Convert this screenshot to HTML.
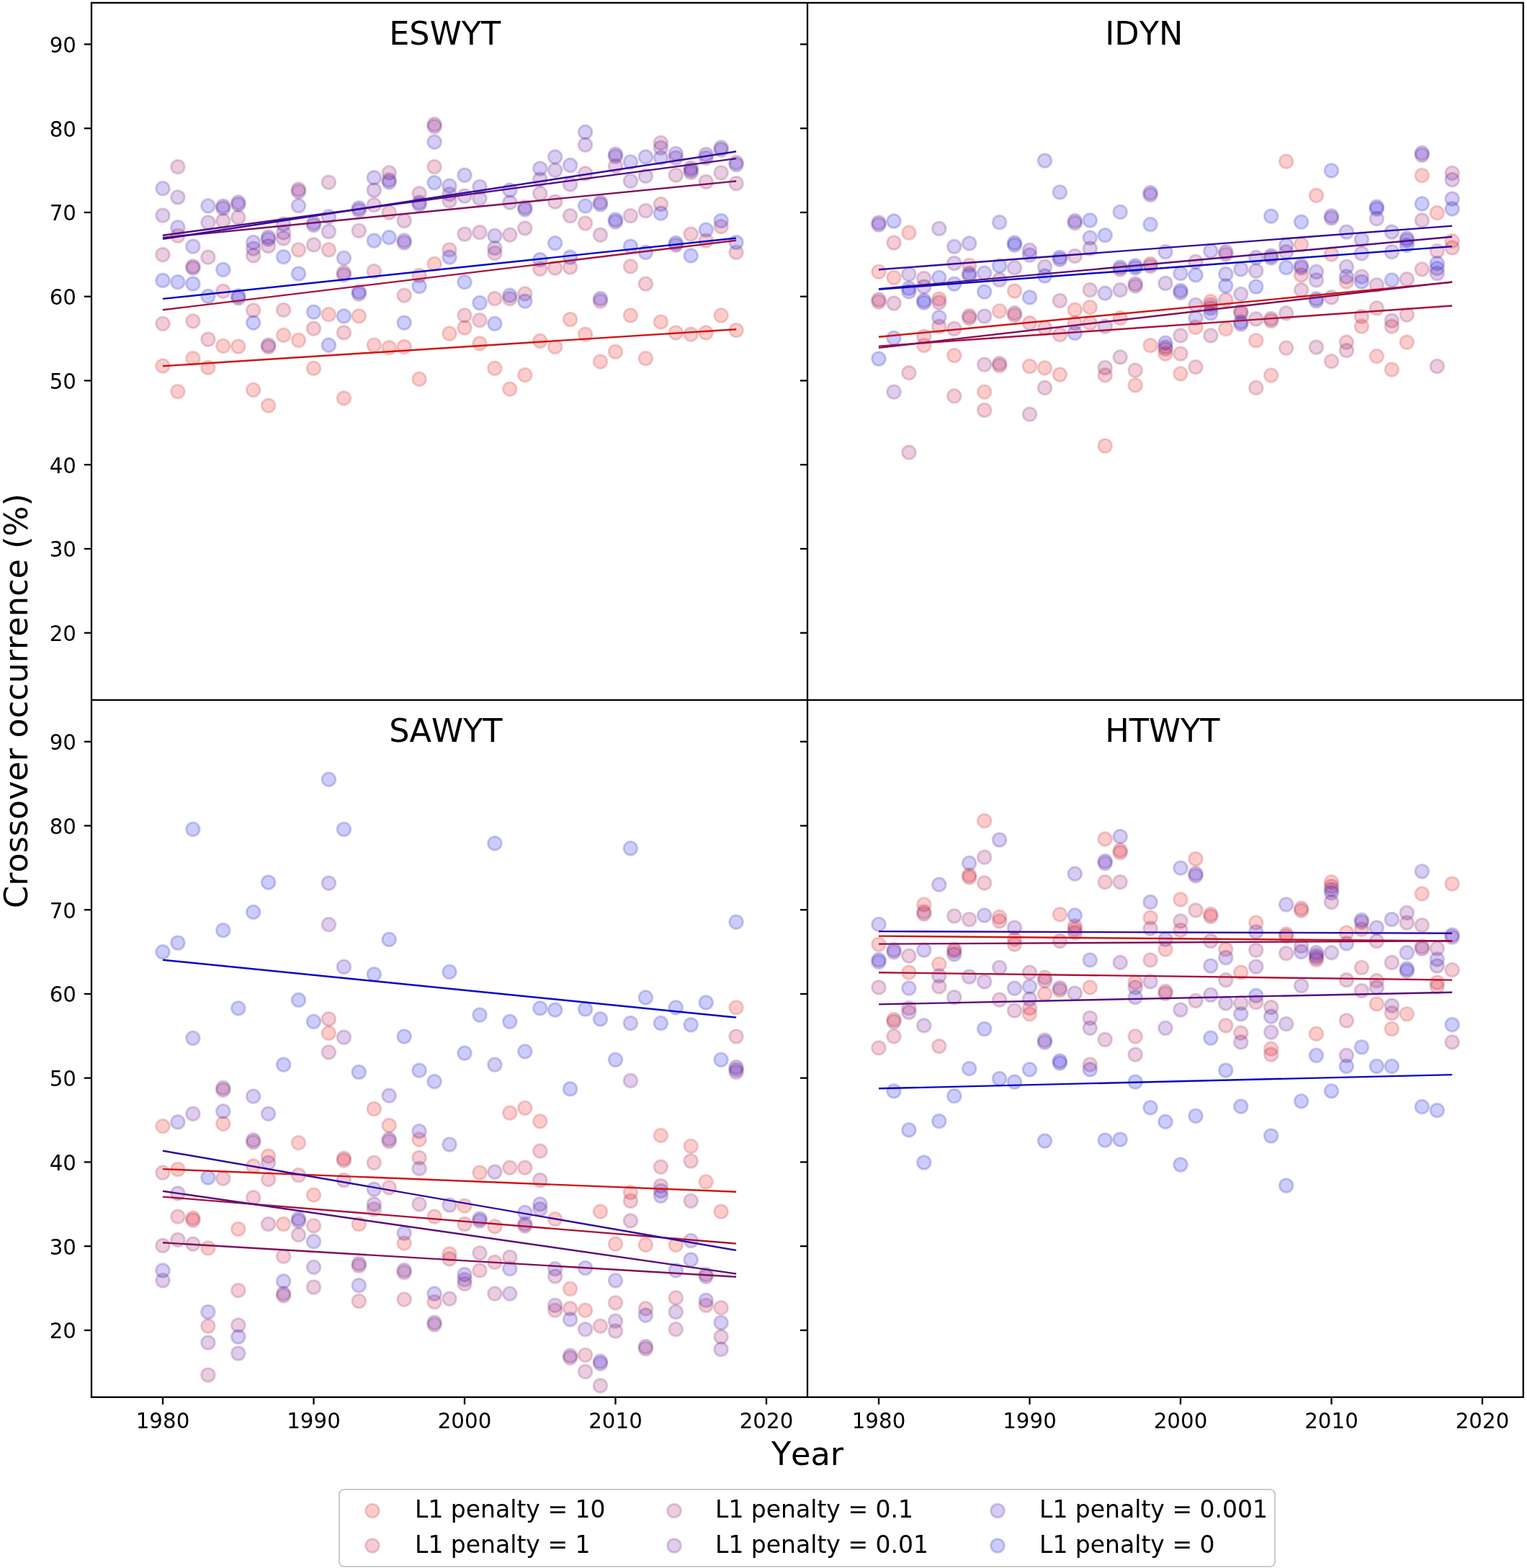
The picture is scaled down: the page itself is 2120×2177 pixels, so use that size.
<!DOCTYPE html>
<html><head><meta charset="utf-8"><title>Crossover occurrence</title>
<style>html,body{margin:0;padding:0;background:#fff;}svg{display:block;}text{font-family:'DejaVu Sans', 'Liberation Sans', sans-serif;fill:#000;font-kerning:none;}</style></head><body>
<svg width="2120" height="2177" viewBox="0 0 2120 2177">
<rect x="0" y="0" width="2120" height="2177" fill="#fff"/>
<clipPath id="cTL"><rect x="127.0" y="3.9" width="994.0" height="967.9"/></clipPath>
<g clip-path="url(#cTL)">
<g fill="rgba(255,0,0,0.20)" stroke="rgba(175,34,34,0.20)" stroke-width="2.9">
<circle cx="226.0" cy="508.0" r="9.4"/>
<circle cx="246.9" cy="543.6" r="9.4"/>
<circle cx="267.9" cy="497.6" r="9.4"/>
<circle cx="288.9" cy="510.3" r="9.4"/>
<circle cx="309.8" cy="480.3" r="9.4"/>
<circle cx="330.8" cy="481.0" r="9.4"/>
<circle cx="351.7" cy="541.3" r="9.4"/>
<circle cx="372.6" cy="563.2" r="9.4"/>
<circle cx="393.6" cy="465.4" r="9.4"/>
<circle cx="414.5" cy="472.3" r="9.4"/>
<circle cx="435.5" cy="511.4" r="9.4"/>
<circle cx="456.4" cy="436.6" r="9.4"/>
<circle cx="477.4" cy="552.9" r="9.4"/>
<circle cx="498.3" cy="438.9" r="9.4"/>
<circle cx="519.3" cy="479.2" r="9.4"/>
<circle cx="540.2" cy="482.6" r="9.4"/>
<circle cx="561.2" cy="481.5" r="9.4"/>
<circle cx="582.1" cy="526.4" r="9.4"/>
<circle cx="603.1" cy="366.4" r="9.4"/>
<circle cx="624.0" cy="463.1" r="9.4"/>
<circle cx="645.0" cy="455.0" r="9.4"/>
<circle cx="666.0" cy="476.9" r="9.4"/>
<circle cx="686.9" cy="511.4" r="9.4"/>
<circle cx="707.8" cy="540.2" r="9.4"/>
<circle cx="728.8" cy="520.6" r="9.4"/>
<circle cx="749.8" cy="473.4" r="9.4"/>
<circle cx="770.7" cy="481.5" r="9.4"/>
<circle cx="791.6" cy="443.5" r="9.4"/>
<circle cx="812.6" cy="464.2" r="9.4"/>
<circle cx="833.5" cy="502.2" r="9.4"/>
<circle cx="854.5" cy="488.4" r="9.4"/>
<circle cx="875.4" cy="437.8" r="9.4"/>
<circle cx="896.4" cy="497.6" r="9.4"/>
<circle cx="917.4" cy="447.0" r="9.4"/>
<circle cx="938.3" cy="461.9" r="9.4"/>
<circle cx="959.2" cy="464.2" r="9.4"/>
<circle cx="980.2" cy="461.9" r="9.4"/>
<circle cx="1001.1" cy="437.8" r="9.4"/>
<circle cx="1022.1" cy="458.5" r="9.4"/>
</g>
<g fill="rgba(204,0,51,0.20)" stroke="rgba(142,30,58,0.20)" stroke-width="2.9">
<circle cx="226.0" cy="449.3" r="9.4"/>
<circle cx="246.9" cy="327.3" r="9.4"/>
<circle cx="267.9" cy="445.8" r="9.4"/>
<circle cx="288.9" cy="471.1" r="9.4"/>
<circle cx="309.8" cy="404.4" r="9.4"/>
<circle cx="351.7" cy="430.8" r="9.4"/>
<circle cx="372.6" cy="481.5" r="9.4"/>
<circle cx="393.6" cy="430.4" r="9.4"/>
<circle cx="414.5" cy="346.8" r="9.4"/>
<circle cx="435.5" cy="456.2" r="9.4"/>
<circle cx="456.4" cy="346.8" r="9.4"/>
<circle cx="477.4" cy="461.9" r="9.4"/>
<circle cx="519.3" cy="376.7" r="9.4"/>
<circle cx="540.2" cy="295.0" r="9.4"/>
<circle cx="561.2" cy="410.1" r="9.4"/>
<circle cx="582.1" cy="382.5" r="9.4"/>
<circle cx="603.1" cy="231.7" r="9.4"/>
<circle cx="624.0" cy="346.8" r="9.4"/>
<circle cx="645.0" cy="437.8" r="9.4"/>
<circle cx="666.0" cy="444.7" r="9.4"/>
<circle cx="686.9" cy="414.7" r="9.4"/>
<circle cx="707.8" cy="414.7" r="9.4"/>
<circle cx="728.8" cy="407.8" r="9.4"/>
<circle cx="749.8" cy="373.3" r="9.4"/>
<circle cx="770.7" cy="372.1" r="9.4"/>
<circle cx="791.6" cy="371.0" r="9.4"/>
<circle cx="812.6" cy="310.0" r="9.4"/>
<circle cx="833.5" cy="418.2" r="9.4"/>
<circle cx="875.4" cy="369.8" r="9.4"/>
<circle cx="896.4" cy="394.0" r="9.4"/>
<circle cx="917.4" cy="283.5" r="9.4"/>
<circle cx="959.2" cy="325.0" r="9.4"/>
<circle cx="980.2" cy="334.2" r="9.4"/>
<circle cx="1001.1" cy="314.6" r="9.4"/>
<circle cx="1022.1" cy="350.3" r="9.4"/>
</g>
<g fill="rgba(153,0,102,0.20)" stroke="rgba(110,26,82,0.20)" stroke-width="2.9">
<circle cx="226.0" cy="353.7" r="9.4"/>
<circle cx="246.9" cy="231.7" r="9.4"/>
<circle cx="267.9" cy="369.8" r="9.4"/>
<circle cx="288.9" cy="357.2" r="9.4"/>
<circle cx="309.8" cy="306.5" r="9.4"/>
<circle cx="330.8" cy="301.9" r="9.4"/>
<circle cx="351.7" cy="354.9" r="9.4"/>
<circle cx="372.6" cy="341.5" r="9.4"/>
<circle cx="393.6" cy="330.9" r="9.4"/>
<circle cx="414.5" cy="262.9" r="9.4"/>
<circle cx="435.5" cy="339.9" r="9.4"/>
<circle cx="456.4" cy="253.1" r="9.4"/>
<circle cx="477.4" cy="378.7" r="9.4"/>
<circle cx="498.3" cy="320.3" r="9.4"/>
<circle cx="519.3" cy="284.7" r="9.4"/>
<circle cx="540.2" cy="239.8" r="9.4"/>
<circle cx="561.2" cy="306.5" r="9.4"/>
<circle cx="582.1" cy="268.6" r="9.4"/>
<circle cx="603.1" cy="172.7" r="9.4"/>
<circle cx="624.0" cy="278.9" r="9.4"/>
<circle cx="645.0" cy="325.0" r="9.4"/>
<circle cx="666.0" cy="322.7" r="9.4"/>
<circle cx="686.9" cy="351.4" r="9.4"/>
<circle cx="707.8" cy="326.1" r="9.4"/>
<circle cx="728.8" cy="316.9" r="9.4"/>
<circle cx="749.8" cy="268.6" r="9.4"/>
<circle cx="770.7" cy="280.1" r="9.4"/>
<circle cx="791.6" cy="299.6" r="9.4"/>
<circle cx="812.6" cy="240.9" r="9.4"/>
<circle cx="833.5" cy="326.1" r="9.4"/>
<circle cx="854.5" cy="230.6" r="9.4"/>
<circle cx="875.4" cy="299.6" r="9.4"/>
<circle cx="896.4" cy="292.7" r="9.4"/>
<circle cx="917.4" cy="198.3" r="9.4"/>
<circle cx="938.3" cy="243.2" r="9.4"/>
<circle cx="959.2" cy="239.3" r="9.4"/>
<circle cx="980.2" cy="252.4" r="9.4"/>
<circle cx="1001.1" cy="239.8" r="9.4"/>
<circle cx="1022.1" cy="254.7" r="9.4"/>
</g>
<g fill="rgba(102,0,153,0.20)" stroke="rgba(78,22,106,0.20)" stroke-width="2.9">
<circle cx="226.0" cy="299.2" r="9.4"/>
<circle cx="246.9" cy="273.8" r="9.4"/>
<circle cx="267.9" cy="372.1" r="9.4"/>
<circle cx="288.9" cy="308.8" r="9.4"/>
<circle cx="309.8" cy="286.2" r="9.4"/>
<circle cx="330.8" cy="280.9" r="9.4"/>
<circle cx="330.8" cy="413.9" r="9.4"/>
<circle cx="351.7" cy="345.2" r="9.4"/>
<circle cx="372.6" cy="329.2" r="9.4"/>
<circle cx="372.6" cy="479.2" r="9.4"/>
<circle cx="393.6" cy="322.9" r="9.4"/>
<circle cx="414.5" cy="265.9" r="9.4"/>
<circle cx="435.5" cy="309.6" r="9.4"/>
<circle cx="456.4" cy="321.5" r="9.4"/>
<circle cx="477.4" cy="381.7" r="9.4"/>
<circle cx="498.3" cy="291.9" r="9.4"/>
<circle cx="498.3" cy="408.2" r="9.4"/>
<circle cx="519.3" cy="264.0" r="9.4"/>
<circle cx="540.2" cy="249.8" r="9.4"/>
<circle cx="561.2" cy="333.8" r="9.4"/>
<circle cx="582.1" cy="280.9" r="9.4"/>
<circle cx="603.1" cy="175.7" r="9.4"/>
<circle cx="624.0" cy="269.7" r="9.4"/>
<circle cx="645.0" cy="272.0" r="9.4"/>
<circle cx="666.0" cy="275.5" r="9.4"/>
<circle cx="686.9" cy="344.5" r="9.4"/>
<circle cx="707.8" cy="281.2" r="9.4"/>
<circle cx="728.8" cy="287.8" r="9.4"/>
<circle cx="749.8" cy="249.0" r="9.4"/>
<circle cx="770.7" cy="236.3" r="9.4"/>
<circle cx="791.6" cy="255.9" r="9.4"/>
<circle cx="812.6" cy="201.1" r="9.4"/>
<circle cx="833.5" cy="280.9" r="9.4"/>
<circle cx="854.5" cy="214.1" r="9.4"/>
<circle cx="854.5" cy="308.0" r="9.4"/>
<circle cx="875.4" cy="251.3" r="9.4"/>
<circle cx="896.4" cy="244.4" r="9.4"/>
<circle cx="917.4" cy="205.2" r="9.4"/>
<circle cx="938.3" cy="219.1" r="9.4"/>
<circle cx="938.3" cy="340.3" r="9.4"/>
<circle cx="959.2" cy="233.3" r="9.4"/>
<circle cx="980.2" cy="219.1" r="9.4"/>
<circle cx="1001.1" cy="204.9" r="9.4"/>
<circle cx="1022.1" cy="225.6" r="9.4"/>
</g>
<g fill="rgba(51,0,204,0.20)" stroke="rgba(45,17,130,0.20)" stroke-width="2.9">
<circle cx="226.0" cy="261.6" r="9.4"/>
<circle cx="246.9" cy="315.7" r="9.4"/>
<circle cx="267.9" cy="342.2" r="9.4"/>
<circle cx="288.9" cy="285.8" r="9.4"/>
<circle cx="309.8" cy="289.2" r="9.4"/>
<circle cx="330.8" cy="283.9" r="9.4"/>
<circle cx="351.7" cy="336.5" r="9.4"/>
<circle cx="372.6" cy="332.2" r="9.4"/>
<circle cx="393.6" cy="311.1" r="9.4"/>
<circle cx="414.5" cy="285.6" r="9.4"/>
<circle cx="435.5" cy="312.6" r="9.4"/>
<circle cx="456.4" cy="300.8" r="9.4"/>
<circle cx="477.4" cy="358.3" r="9.4"/>
<circle cx="498.3" cy="288.9" r="9.4"/>
<circle cx="519.3" cy="246.7" r="9.4"/>
<circle cx="540.2" cy="252.8" r="9.4"/>
<circle cx="561.2" cy="336.8" r="9.4"/>
<circle cx="582.1" cy="283.9" r="9.4"/>
<circle cx="603.1" cy="197.2" r="9.4"/>
<circle cx="624.0" cy="258.2" r="9.4"/>
<circle cx="645.0" cy="243.2" r="9.4"/>
<circle cx="666.0" cy="259.3" r="9.4"/>
<circle cx="686.9" cy="327.3" r="9.4"/>
<circle cx="707.8" cy="264.0" r="9.4"/>
<circle cx="728.8" cy="290.8" r="9.4"/>
<circle cx="749.8" cy="234.0" r="9.4"/>
<circle cx="770.7" cy="217.9" r="9.4"/>
<circle cx="791.6" cy="229.4" r="9.4"/>
<circle cx="812.6" cy="183.4" r="9.4"/>
<circle cx="833.5" cy="283.9" r="9.4"/>
<circle cx="854.5" cy="217.1" r="9.4"/>
<circle cx="875.4" cy="224.8" r="9.4"/>
<circle cx="896.4" cy="217.9" r="9.4"/>
<circle cx="917.4" cy="219.1" r="9.4"/>
<circle cx="938.3" cy="213.3" r="9.4"/>
<circle cx="959.2" cy="236.3" r="9.4"/>
<circle cx="980.2" cy="214.5" r="9.4"/>
<circle cx="1001.1" cy="207.9" r="9.4"/>
<circle cx="1022.1" cy="228.6" r="9.4"/>
</g>
<g fill="rgba(0,0,255,0.20)" stroke="rgba(13,13,153,0.20)" stroke-width="2.9">
<circle cx="226.0" cy="389.4" r="9.4"/>
<circle cx="246.9" cy="391.7" r="9.4"/>
<circle cx="267.9" cy="394.0" r="9.4"/>
<circle cx="288.9" cy="411.3" r="9.4"/>
<circle cx="309.8" cy="374.4" r="9.4"/>
<circle cx="330.8" cy="410.9" r="9.4"/>
<circle cx="351.7" cy="448.1" r="9.4"/>
<circle cx="393.6" cy="356.7" r="9.4"/>
<circle cx="414.5" cy="380.0" r="9.4"/>
<circle cx="435.5" cy="433.1" r="9.4"/>
<circle cx="456.4" cy="479.2" r="9.4"/>
<circle cx="477.4" cy="438.9" r="9.4"/>
<circle cx="498.3" cy="405.2" r="9.4"/>
<circle cx="519.3" cy="334.2" r="9.4"/>
<circle cx="540.2" cy="329.6" r="9.4"/>
<circle cx="561.2" cy="448.1" r="9.4"/>
<circle cx="582.1" cy="397.5" r="9.4"/>
<circle cx="603.1" cy="253.6" r="9.4"/>
<circle cx="624.0" cy="357.2" r="9.4"/>
<circle cx="645.0" cy="391.7" r="9.4"/>
<circle cx="666.0" cy="420.5" r="9.4"/>
<circle cx="686.9" cy="449.3" r="9.4"/>
<circle cx="707.8" cy="410.1" r="9.4"/>
<circle cx="728.8" cy="418.2" r="9.4"/>
<circle cx="749.8" cy="360.6" r="9.4"/>
<circle cx="770.7" cy="337.6" r="9.4"/>
<circle cx="791.6" cy="357.2" r="9.4"/>
<circle cx="812.6" cy="285.8" r="9.4"/>
<circle cx="833.5" cy="414.7" r="9.4"/>
<circle cx="854.5" cy="305.0" r="9.4"/>
<circle cx="875.4" cy="342.2" r="9.4"/>
<circle cx="896.4" cy="350.3" r="9.4"/>
<circle cx="917.4" cy="296.2" r="9.4"/>
<circle cx="938.3" cy="337.3" r="9.4"/>
<circle cx="959.2" cy="354.9" r="9.4"/>
<circle cx="980.2" cy="319.2" r="9.4"/>
<circle cx="1001.1" cy="306.5" r="9.4"/>
<circle cx="1022.1" cy="336.5" r="9.4"/>
</g>
<line x1="226.0" y1="508.3" x2="1022.1" y2="457.2" stroke="rgb(210,19,19)" stroke-width="2.4"/>
<line x1="226.0" y1="430.3" x2="1022.1" y2="333.8" stroke="rgb(170,17,55)" stroke-width="2.4"/>
<line x1="226.0" y1="330.0" x2="1022.1" y2="251.5" stroke="rgb(129,14,91)" stroke-width="2.4"/>
<line x1="226.0" y1="326.7" x2="1022.1" y2="220.1" stroke="rgb(88,12,127)" stroke-width="2.4"/>
<line x1="226.0" y1="331.8" x2="1022.1" y2="210.3" stroke="rgb(48,10,163)" stroke-width="2.4"/>
<line x1="226.0" y1="414.9" x2="1022.1" y2="330.6" stroke="rgb(7,7,199)" stroke-width="2.4"/>
</g>
<clipPath id="cTR"><rect x="1121.0" y="3.9" width="993.8" height="967.9"/></clipPath>
<g clip-path="url(#cTR)">
<g fill="rgba(255,0,0,0.20)" stroke="rgba(175,34,34,0.20)" stroke-width="2.9">
<circle cx="1220.0" cy="377.3" r="9.4"/>
<circle cx="1241.0" cy="385.3" r="9.4"/>
<circle cx="1261.9" cy="323.2" r="9.4"/>
<circle cx="1282.8" cy="479.7" r="9.4"/>
<circle cx="1303.8" cy="415.2" r="9.4"/>
<circle cx="1324.8" cy="493.5" r="9.4"/>
<circle cx="1345.7" cy="368.3" r="9.4"/>
<circle cx="1366.7" cy="544.2" r="9.4"/>
<circle cx="1387.6" cy="431.8" r="9.4"/>
<circle cx="1408.5" cy="404.0" r="9.4"/>
<circle cx="1429.5" cy="508.5" r="9.4"/>
<circle cx="1450.5" cy="510.8" r="9.4"/>
<circle cx="1471.4" cy="520.0" r="9.4"/>
<circle cx="1492.3" cy="430.2" r="9.4"/>
<circle cx="1513.3" cy="426.7" r="9.4"/>
<circle cx="1534.2" cy="619.0" r="9.4"/>
<circle cx="1555.2" cy="441.7" r="9.4"/>
<circle cx="1576.2" cy="534.9" r="9.4"/>
<circle cx="1597.1" cy="479.7" r="9.4"/>
<circle cx="1618.0" cy="491.2" r="9.4"/>
<circle cx="1639.0" cy="518.8" r="9.4"/>
<circle cx="1660.0" cy="454.4" r="9.4"/>
<circle cx="1680.9" cy="418.7" r="9.4"/>
<circle cx="1701.8" cy="456.7" r="9.4"/>
<circle cx="1743.8" cy="472.8" r="9.4"/>
<circle cx="1764.7" cy="521.1" r="9.4"/>
<circle cx="1785.7" cy="224.2" r="9.4"/>
<circle cx="1806.6" cy="339.3" r="9.4"/>
<circle cx="1827.5" cy="271.4" r="9.4"/>
<circle cx="1848.5" cy="353.1" r="9.4"/>
<circle cx="1869.4" cy="391.1" r="9.4"/>
<circle cx="1890.4" cy="453.2" r="9.4"/>
<circle cx="1911.3" cy="494.7" r="9.4"/>
<circle cx="1932.3" cy="513.1" r="9.4"/>
<circle cx="1953.2" cy="475.1" r="9.4"/>
<circle cx="1974.2" cy="243.7" r="9.4"/>
<circle cx="1995.2" cy="295.5" r="9.4"/>
<circle cx="2016.1" cy="334.7" r="9.4"/>
</g>
<g fill="rgba(204,0,51,0.20)" stroke="rgba(142,30,58,0.20)" stroke-width="2.9">
<circle cx="1220.0" cy="419.0" r="9.4"/>
<circle cx="1241.0" cy="337.0" r="9.4"/>
<circle cx="1261.9" cy="517.7" r="9.4"/>
<circle cx="1282.8" cy="467.0" r="9.4"/>
<circle cx="1303.8" cy="453.2" r="9.4"/>
<circle cx="1324.8" cy="549.9" r="9.4"/>
<circle cx="1345.7" cy="441.6" r="9.4"/>
<circle cx="1366.7" cy="569.5" r="9.4"/>
<circle cx="1387.6" cy="507.7" r="9.4"/>
<circle cx="1408.5" cy="437.7" r="9.4"/>
<circle cx="1429.5" cy="448.6" r="9.4"/>
<circle cx="1450.5" cy="455.5" r="9.4"/>
<circle cx="1471.4" cy="464.7" r="9.4"/>
<circle cx="1492.3" cy="448.6" r="9.4"/>
<circle cx="1513.3" cy="448.6" r="9.4"/>
<circle cx="1534.2" cy="520.9" r="9.4"/>
<circle cx="1555.2" cy="374.2" r="9.4"/>
<circle cx="1576.2" cy="514.2" r="9.4"/>
<circle cx="1597.1" cy="366.5" r="9.4"/>
<circle cx="1618.0" cy="484.6" r="9.4"/>
<circle cx="1639.0" cy="491.2" r="9.4"/>
<circle cx="1660.0" cy="509.6" r="9.4"/>
<circle cx="1680.9" cy="423.3" r="9.4"/>
<circle cx="1701.8" cy="416.4" r="9.4"/>
<circle cx="1722.8" cy="435.2" r="9.4"/>
<circle cx="1743.8" cy="538.4" r="9.4"/>
<circle cx="1764.7" cy="445.5" r="9.4"/>
<circle cx="1785.7" cy="483.1" r="9.4"/>
<circle cx="1806.6" cy="381.9" r="9.4"/>
<circle cx="1848.5" cy="501.6" r="9.4"/>
<circle cx="1869.4" cy="475.1" r="9.4"/>
<circle cx="1890.4" cy="439.4" r="9.4"/>
<circle cx="1911.3" cy="427.9" r="9.4"/>
<circle cx="1932.3" cy="453.2" r="9.4"/>
<circle cx="1953.2" cy="437.1" r="9.4"/>
<circle cx="1974.2" cy="373.8" r="9.4"/>
<circle cx="1995.2" cy="348.5" r="9.4"/>
<circle cx="2016.1" cy="343.9" r="9.4"/>
</g>
<g fill="rgba(153,0,102,0.20)" stroke="rgba(110,26,82,0.20)" stroke-width="2.9">
<circle cx="1220.0" cy="416.0" r="9.4"/>
<circle cx="1241.0" cy="421.0" r="9.4"/>
<circle cx="1261.9" cy="628.2" r="9.4"/>
<circle cx="1282.8" cy="386.5" r="9.4"/>
<circle cx="1303.8" cy="419.8" r="9.4"/>
<circle cx="1324.8" cy="456.4" r="9.4"/>
<circle cx="1345.7" cy="438.6" r="9.4"/>
<circle cx="1366.7" cy="506.2" r="9.4"/>
<circle cx="1387.6" cy="504.7" r="9.4"/>
<circle cx="1408.5" cy="434.7" r="9.4"/>
<circle cx="1429.5" cy="575.2" r="9.4"/>
<circle cx="1450.5" cy="538.4" r="9.4"/>
<circle cx="1471.4" cy="417.5" r="9.4"/>
<circle cx="1492.3" cy="355.4" r="9.4"/>
<circle cx="1513.3" cy="402.6" r="9.4"/>
<circle cx="1534.2" cy="510.5" r="9.4"/>
<circle cx="1555.2" cy="495.8" r="9.4"/>
<circle cx="1576.2" cy="397.2" r="9.4"/>
<circle cx="1597.1" cy="369.5" r="9.4"/>
<circle cx="1618.0" cy="481.6" r="9.4"/>
<circle cx="1639.0" cy="465.9" r="9.4"/>
<circle cx="1660.0" cy="363.4" r="9.4"/>
<circle cx="1680.9" cy="465.9" r="9.4"/>
<circle cx="1701.8" cy="353.1" r="9.4"/>
<circle cx="1722.8" cy="432.2" r="9.4"/>
<circle cx="1743.8" cy="442.9" r="9.4"/>
<circle cx="1764.7" cy="442.5" r="9.4"/>
<circle cx="1785.7" cy="434.8" r="9.4"/>
<circle cx="1806.6" cy="402.6" r="9.4"/>
<circle cx="1827.5" cy="482.0" r="9.4"/>
<circle cx="1848.5" cy="412.9" r="9.4"/>
<circle cx="1869.4" cy="486.6" r="9.4"/>
<circle cx="1890.4" cy="384.2" r="9.4"/>
<circle cx="1911.3" cy="395.7" r="9.4"/>
<circle cx="1932.3" cy="445.2" r="9.4"/>
<circle cx="1953.2" cy="387.6" r="9.4"/>
<circle cx="1974.2" cy="305.9" r="9.4"/>
<circle cx="1995.2" cy="508.5" r="9.4"/>
<circle cx="2016.1" cy="240.3" r="9.4"/>
</g>
<g fill="rgba(102,0,153,0.20)" stroke="rgba(78,22,106,0.20)" stroke-width="2.9">
<circle cx="1220.0" cy="309.0" r="9.4"/>
<circle cx="1241.0" cy="544.2" r="9.4"/>
<circle cx="1261.9" cy="380.7" r="9.4"/>
<circle cx="1282.8" cy="398.0" r="9.4"/>
<circle cx="1303.8" cy="317.4" r="9.4"/>
<circle cx="1324.8" cy="365.5" r="9.4"/>
<circle cx="1345.7" cy="382.7" r="9.4"/>
<circle cx="1366.7" cy="439.0" r="9.4"/>
<circle cx="1387.6" cy="388.5" r="9.4"/>
<circle cx="1408.5" cy="371.7" r="9.4"/>
<circle cx="1429.5" cy="347.3" r="9.4"/>
<circle cx="1450.5" cy="370.3" r="9.4"/>
<circle cx="1471.4" cy="360.3" r="9.4"/>
<circle cx="1492.3" cy="309.7" r="9.4"/>
<circle cx="1513.3" cy="345.0" r="9.4"/>
<circle cx="1534.2" cy="453.2" r="9.4"/>
<circle cx="1555.2" cy="402.6" r="9.4"/>
<circle cx="1576.2" cy="394.2" r="9.4"/>
<circle cx="1597.1" cy="270.6" r="9.4"/>
<circle cx="1618.0" cy="393.4" r="9.4"/>
<circle cx="1639.0" cy="406.4" r="9.4"/>
<circle cx="1660.0" cy="423.3" r="9.4"/>
<circle cx="1680.9" cy="427.9" r="9.4"/>
<circle cx="1701.8" cy="349.6" r="9.4"/>
<circle cx="1722.8" cy="408.3" r="9.4"/>
<circle cx="1722.8" cy="450.1" r="9.4"/>
<circle cx="1743.8" cy="376.1" r="9.4"/>
<circle cx="1764.7" cy="358.0" r="9.4"/>
<circle cx="1785.7" cy="349.6" r="9.4"/>
<circle cx="1806.6" cy="371.8" r="9.4"/>
<circle cx="1827.5" cy="388.8" r="9.4"/>
<circle cx="1827.5" cy="417.9" r="9.4"/>
<circle cx="1848.5" cy="302.8" r="9.4"/>
<circle cx="1869.4" cy="370.3" r="9.4"/>
<circle cx="1890.4" cy="351.9" r="9.4"/>
<circle cx="1911.3" cy="303.6" r="9.4"/>
<circle cx="1932.3" cy="349.6" r="9.4"/>
<circle cx="1953.2" cy="333.9" r="9.4"/>
<circle cx="1974.2" cy="215.3" r="9.4"/>
<circle cx="1995.2" cy="379.6" r="9.4"/>
<circle cx="2016.1" cy="249.5" r="9.4"/>
</g>
<g fill="rgba(51,0,204,0.20)" stroke="rgba(45,17,130,0.20)" stroke-width="2.9">
<circle cx="1220.0" cy="312.0" r="9.4"/>
<circle cx="1261.9" cy="404.9" r="9.4"/>
<circle cx="1282.8" cy="420.2" r="9.4"/>
<circle cx="1303.8" cy="440.6" r="9.4"/>
<circle cx="1324.8" cy="342.3" r="9.4"/>
<circle cx="1345.7" cy="337.9" r="9.4"/>
<circle cx="1366.7" cy="379.1" r="9.4"/>
<circle cx="1387.6" cy="308.7" r="9.4"/>
<circle cx="1408.5" cy="340.1" r="9.4"/>
<circle cx="1429.5" cy="354.2" r="9.4"/>
<circle cx="1450.5" cy="223.0" r="9.4"/>
<circle cx="1471.4" cy="266.8" r="9.4"/>
<circle cx="1492.3" cy="306.7" r="9.4"/>
<circle cx="1513.3" cy="330.1" r="9.4"/>
<circle cx="1534.2" cy="407.2" r="9.4"/>
<circle cx="1555.2" cy="294.4" r="9.4"/>
<circle cx="1576.2" cy="371.8" r="9.4"/>
<circle cx="1597.1" cy="267.6" r="9.4"/>
<circle cx="1618.0" cy="349.6" r="9.4"/>
<circle cx="1639.0" cy="379.6" r="9.4"/>
<circle cx="1660.0" cy="441.7" r="9.4"/>
<circle cx="1680.9" cy="348.5" r="9.4"/>
<circle cx="1701.8" cy="380.7" r="9.4"/>
<circle cx="1722.8" cy="373.8" r="9.4"/>
<circle cx="1743.8" cy="357.7" r="9.4"/>
<circle cx="1764.7" cy="355.0" r="9.4"/>
<circle cx="1785.7" cy="340.4" r="9.4"/>
<circle cx="1806.6" cy="368.8" r="9.4"/>
<circle cx="1827.5" cy="377.3" r="9.4"/>
<circle cx="1848.5" cy="299.8" r="9.4"/>
<circle cx="1869.4" cy="322.0" r="9.4"/>
<circle cx="1890.4" cy="332.4" r="9.4"/>
<circle cx="1911.3" cy="290.1" r="9.4"/>
<circle cx="1932.3" cy="322.0" r="9.4"/>
<circle cx="1953.2" cy="330.9" r="9.4"/>
<circle cx="1974.2" cy="212.3" r="9.4"/>
<circle cx="1995.2" cy="372.7" r="9.4"/>
<circle cx="2016.1" cy="276.0" r="9.4"/>
</g>
<g fill="rgba(0,0,255,0.20)" stroke="rgba(13,13,153,0.20)" stroke-width="2.9">
<circle cx="1220.0" cy="498.1" r="9.4"/>
<circle cx="1241.0" cy="307.0" r="9.4"/>
<circle cx="1241.0" cy="469.3" r="9.4"/>
<circle cx="1261.9" cy="400.3" r="9.4"/>
<circle cx="1282.8" cy="417.2" r="9.4"/>
<circle cx="1303.8" cy="385.3" r="9.4"/>
<circle cx="1324.8" cy="394.1" r="9.4"/>
<circle cx="1345.7" cy="379.7" r="9.4"/>
<circle cx="1366.7" cy="405.1" r="9.4"/>
<circle cx="1387.6" cy="369.0" r="9.4"/>
<circle cx="1408.5" cy="337.1" r="9.4"/>
<circle cx="1429.5" cy="412.9" r="9.4"/>
<circle cx="1450.5" cy="383.0" r="9.4"/>
<circle cx="1471.4" cy="357.3" r="9.4"/>
<circle cx="1492.3" cy="462.4" r="9.4"/>
<circle cx="1513.3" cy="305.9" r="9.4"/>
<circle cx="1534.2" cy="326.6" r="9.4"/>
<circle cx="1555.2" cy="371.2" r="9.4"/>
<circle cx="1576.2" cy="368.8" r="9.4"/>
<circle cx="1597.1" cy="311.6" r="9.4"/>
<circle cx="1618.0" cy="476.2" r="9.4"/>
<circle cx="1639.0" cy="403.4" r="9.4"/>
<circle cx="1660.0" cy="381.9" r="9.4"/>
<circle cx="1680.9" cy="434.8" r="9.4"/>
<circle cx="1701.8" cy="396.8" r="9.4"/>
<circle cx="1722.8" cy="447.1" r="9.4"/>
<circle cx="1743.8" cy="398.0" r="9.4"/>
<circle cx="1764.7" cy="300.1" r="9.4"/>
<circle cx="1785.7" cy="371.5" r="9.4"/>
<circle cx="1806.6" cy="308.2" r="9.4"/>
<circle cx="1827.5" cy="414.9" r="9.4"/>
<circle cx="1848.5" cy="236.8" r="9.4"/>
<circle cx="1869.4" cy="384.2" r="9.4"/>
<circle cx="1890.4" cy="391.1" r="9.4"/>
<circle cx="1911.3" cy="287.1" r="9.4"/>
<circle cx="1932.3" cy="388.8" r="9.4"/>
<circle cx="1953.2" cy="340.4" r="9.4"/>
<circle cx="1974.2" cy="282.9" r="9.4"/>
<circle cx="1995.2" cy="365.7" r="9.4"/>
<circle cx="2016.1" cy="289.8" r="9.4"/>
</g>
<line x1="1220.0" y1="467.7" x2="2016.1" y2="391.9" stroke="rgb(210,19,19)" stroke-width="2.4"/>
<line x1="1220.0" y1="480.6" x2="2016.1" y2="424.5" stroke="rgb(170,17,55)" stroke-width="2.4"/>
<line x1="1220.0" y1="482.9" x2="2016.1" y2="391.4" stroke="rgb(129,14,91)" stroke-width="2.4"/>
<line x1="1220.0" y1="401.2" x2="2016.1" y2="328.8" stroke="rgb(88,12,127)" stroke-width="2.4"/>
<line x1="1220.0" y1="374.3" x2="2016.1" y2="313.6" stroke="rgb(48,10,163)" stroke-width="2.4"/>
<line x1="1220.0" y1="401.7" x2="2016.1" y2="342.1" stroke="rgb(7,7,199)" stroke-width="2.4"/>
</g>
<clipPath id="cBL"><rect x="127.0" y="971.8" width="994.0" height="968.0"/></clipPath>
<g clip-path="url(#cBL)">
<g fill="rgba(255,0,0,0.20)" stroke="rgba(175,34,34,0.20)" stroke-width="2.9">
<circle cx="456.4" cy="1434.4" r="9.4"/>
<circle cx="1022.1" cy="1398.8" r="9.4"/>
<circle cx="226.0" cy="1563.7" r="9.4"/>
<circle cx="246.9" cy="1623.5" r="9.4"/>
<circle cx="267.9" cy="1691.1" r="9.4"/>
<circle cx="288.9" cy="1732.9" r="9.4"/>
<circle cx="309.8" cy="1560.2" r="9.4"/>
<circle cx="330.8" cy="1706.4" r="9.4"/>
<circle cx="351.7" cy="1618.9" r="9.4"/>
<circle cx="372.6" cy="1605.1" r="9.4"/>
<circle cx="393.6" cy="1699.5" r="9.4"/>
<circle cx="414.5" cy="1586.7" r="9.4"/>
<circle cx="435.5" cy="1659.2" r="9.4"/>
<circle cx="477.4" cy="1608.2" r="9.4"/>
<circle cx="498.3" cy="1699.5" r="9.4"/>
<circle cx="519.3" cy="1539.5" r="9.4"/>
<circle cx="540.2" cy="1562.5" r="9.4"/>
<circle cx="561.2" cy="1726.0" r="9.4"/>
<circle cx="582.1" cy="1582.1" r="9.4"/>
<circle cx="603.1" cy="1689.1" r="9.4"/>
<circle cx="624.0" cy="1740.9" r="9.4"/>
<circle cx="645.0" cy="1674.2" r="9.4"/>
<circle cx="666.0" cy="1628.1" r="9.4"/>
<circle cx="686.9" cy="1702.9" r="9.4"/>
<circle cx="707.8" cy="1545.2" r="9.4"/>
<circle cx="728.8" cy="1538.3" r="9.4"/>
<circle cx="749.8" cy="1556.8" r="9.4"/>
<circle cx="770.7" cy="1692.6" r="9.4"/>
<circle cx="791.6" cy="1789.3" r="9.4"/>
<circle cx="812.6" cy="1819.2" r="9.4"/>
<circle cx="833.5" cy="1682.2" r="9.4"/>
<circle cx="854.5" cy="1727.1" r="9.4"/>
<circle cx="875.4" cy="1655.7" r="9.4"/>
<circle cx="896.4" cy="1728.3" r="9.4"/>
<circle cx="917.4" cy="1576.3" r="9.4"/>
<circle cx="938.3" cy="1728.3" r="9.4"/>
<circle cx="959.2" cy="1591.3" r="9.4"/>
<circle cx="980.2" cy="1640.8" r="9.4"/>
<circle cx="1001.1" cy="1682.2" r="9.4"/>
</g>
<g fill="rgba(204,0,51,0.20)" stroke="rgba(142,30,58,0.20)" stroke-width="2.9">
<circle cx="456.4" cy="1414.9" r="9.4"/>
<circle cx="1022.1" cy="1439.0" r="9.4"/>
<circle cx="226.0" cy="1628.1" r="9.4"/>
<circle cx="246.9" cy="1689.1" r="9.4"/>
<circle cx="267.9" cy="1694.1" r="9.4"/>
<circle cx="288.9" cy="1841.1" r="9.4"/>
<circle cx="309.8" cy="1636.2" r="9.4"/>
<circle cx="330.8" cy="1791.6" r="9.4"/>
<circle cx="351.7" cy="1662.7" r="9.4"/>
<circle cx="372.6" cy="1637.3" r="9.4"/>
<circle cx="393.6" cy="1744.4" r="9.4"/>
<circle cx="414.5" cy="1631.6" r="9.4"/>
<circle cx="435.5" cy="1701.8" r="9.4"/>
<circle cx="477.4" cy="1611.2" r="9.4"/>
<circle cx="498.3" cy="1806.5" r="9.4"/>
<circle cx="519.3" cy="1614.3" r="9.4"/>
<circle cx="540.2" cy="1648.8" r="9.4"/>
<circle cx="561.2" cy="1804.2" r="9.4"/>
<circle cx="582.1" cy="1607.4" r="9.4"/>
<circle cx="603.1" cy="1807.7" r="9.4"/>
<circle cx="624.0" cy="1747.8" r="9.4"/>
<circle cx="645.0" cy="1699.5" r="9.4"/>
<circle cx="666.0" cy="1763.9" r="9.4"/>
<circle cx="686.9" cy="1752.4" r="9.4"/>
<circle cx="707.8" cy="1621.2" r="9.4"/>
<circle cx="728.8" cy="1621.2" r="9.4"/>
<circle cx="749.8" cy="1598.2" r="9.4"/>
<circle cx="770.7" cy="1819.2" r="9.4"/>
<circle cx="791.6" cy="1816.9" r="9.4"/>
<circle cx="812.6" cy="1881.3" r="9.4"/>
<circle cx="833.5" cy="1841.1" r="9.4"/>
<circle cx="854.5" cy="1808.8" r="9.4"/>
<circle cx="875.4" cy="1667.3" r="9.4"/>
<circle cx="896.4" cy="1816.9" r="9.4"/>
<circle cx="917.4" cy="1620.1" r="9.4"/>
<circle cx="938.3" cy="1801.9" r="9.4"/>
<circle cx="959.2" cy="1612.0" r="9.4"/>
<circle cx="980.2" cy="1812.3" r="9.4"/>
<circle cx="1001.1" cy="1815.7" r="9.4"/>
</g>
<g fill="rgba(153,0,102,0.20)" stroke="rgba(110,26,82,0.20)" stroke-width="2.9">
<circle cx="456.4" cy="1460.9" r="9.4"/>
<circle cx="1022.1" cy="1488.5" r="9.4"/>
<circle cx="226.0" cy="1729.4" r="9.4"/>
<circle cx="246.9" cy="1721.4" r="9.4"/>
<circle cx="267.9" cy="1727.1" r="9.4"/>
<circle cx="288.9" cy="1909.0" r="9.4"/>
<circle cx="309.8" cy="1513.4" r="9.4"/>
<circle cx="330.8" cy="1839.9" r="9.4"/>
<circle cx="351.7" cy="1585.9" r="9.4"/>
<circle cx="372.6" cy="1699.5" r="9.4"/>
<circle cx="393.6" cy="1798.8" r="9.4"/>
<circle cx="414.5" cy="1714.4" r="9.4"/>
<circle cx="435.5" cy="1787.0" r="9.4"/>
<circle cx="477.4" cy="1638.5" r="9.4"/>
<circle cx="498.3" cy="1757.4" r="9.4"/>
<circle cx="519.3" cy="1678.8" r="9.4"/>
<circle cx="540.2" cy="1584.7" r="9.4"/>
<circle cx="561.2" cy="1766.6" r="9.4"/>
<circle cx="582.1" cy="1671.9" r="9.4"/>
<circle cx="603.1" cy="1839.1" r="9.4"/>
<circle cx="624.0" cy="1803.1" r="9.4"/>
<circle cx="645.0" cy="1782.4" r="9.4"/>
<circle cx="666.0" cy="1739.8" r="9.4"/>
<circle cx="686.9" cy="1796.2" r="9.4"/>
<circle cx="707.8" cy="1745.5" r="9.4"/>
<circle cx="728.8" cy="1702.1" r="9.4"/>
<circle cx="749.8" cy="1638.5" r="9.4"/>
<circle cx="770.7" cy="1772.0" r="9.4"/>
<circle cx="791.6" cy="1885.1" r="9.4"/>
<circle cx="812.6" cy="1904.4" r="9.4"/>
<circle cx="833.5" cy="1923.9" r="9.4"/>
<circle cx="854.5" cy="1848.0" r="9.4"/>
<circle cx="875.4" cy="1694.9" r="9.4"/>
<circle cx="896.4" cy="1872.5" r="9.4"/>
<circle cx="917.4" cy="1646.5" r="9.4"/>
<circle cx="938.3" cy="1845.7" r="9.4"/>
<circle cx="959.2" cy="1667.3" r="9.4"/>
<circle cx="980.2" cy="1769.3" r="9.4"/>
<circle cx="1001.1" cy="1856.0" r="9.4"/>
</g>
<g fill="rgba(102,0,153,0.20)" stroke="rgba(78,22,106,0.20)" stroke-width="2.9">
<circle cx="456.4" cy="1283.7" r="9.4"/>
<circle cx="477.4" cy="1440.2" r="9.4"/>
<circle cx="1022.1" cy="1481.6" r="9.4"/>
<circle cx="226.0" cy="1777.8" r="9.4"/>
<circle cx="246.9" cy="1656.9" r="9.4"/>
<circle cx="267.9" cy="1546.4" r="9.4"/>
<circle cx="288.9" cy="1864.1" r="9.4"/>
<circle cx="309.8" cy="1510.4" r="9.4"/>
<circle cx="330.8" cy="1879.0" r="9.4"/>
<circle cx="351.7" cy="1582.9" r="9.4"/>
<circle cx="372.6" cy="1614.3" r="9.4"/>
<circle cx="393.6" cy="1795.8" r="9.4"/>
<circle cx="414.5" cy="1695.2" r="9.4"/>
<circle cx="435.5" cy="1759.3" r="9.4"/>
<circle cx="498.3" cy="1754.4" r="9.4"/>
<circle cx="519.3" cy="1671.9" r="9.4"/>
<circle cx="540.2" cy="1581.7" r="9.4"/>
<circle cx="561.2" cy="1763.6" r="9.4"/>
<circle cx="582.1" cy="1622.4" r="9.4"/>
<circle cx="603.1" cy="1836.1" r="9.4"/>
<circle cx="624.0" cy="1673.0" r="9.4"/>
<circle cx="645.0" cy="1776.6" r="9.4"/>
<circle cx="666.0" cy="1695.2" r="9.4"/>
<circle cx="686.9" cy="1627.0" r="9.4"/>
<circle cx="707.8" cy="1796.2" r="9.4"/>
<circle cx="728.8" cy="1699.1" r="9.4"/>
<circle cx="749.8" cy="1678.8" r="9.4"/>
<circle cx="770.7" cy="1812.3" r="9.4"/>
<circle cx="791.6" cy="1882.1" r="9.4"/>
<circle cx="812.6" cy="1845.7" r="9.4"/>
<circle cx="833.5" cy="1893.2" r="9.4"/>
<circle cx="854.5" cy="1834.2" r="9.4"/>
<circle cx="875.4" cy="1500.4" r="9.4"/>
<circle cx="896.4" cy="1869.5" r="9.4"/>
<circle cx="917.4" cy="1653.4" r="9.4"/>
<circle cx="938.3" cy="1821.5" r="9.4"/>
<circle cx="959.2" cy="1722.5" r="9.4"/>
<circle cx="980.2" cy="1772.3" r="9.4"/>
<circle cx="1001.1" cy="1873.3" r="9.4"/>
</g>
<g fill="rgba(51,0,204,0.20)" stroke="rgba(45,17,130,0.20)" stroke-width="2.9">
<circle cx="267.9" cy="1441.3" r="9.4"/>
<circle cx="456.4" cy="1226.1" r="9.4"/>
<circle cx="477.4" cy="1342.4" r="9.4"/>
<circle cx="686.9" cy="1478.2" r="9.4"/>
<circle cx="875.4" cy="1420.6" r="9.4"/>
<circle cx="1022.1" cy="1485.1" r="9.4"/>
<circle cx="226.0" cy="1763.9" r="9.4"/>
<circle cx="246.9" cy="1557.9" r="9.4"/>
<circle cx="288.9" cy="1821.5" r="9.4"/>
<circle cx="309.8" cy="1542.9" r="9.4"/>
<circle cx="330.8" cy="1856.0" r="9.4"/>
<circle cx="351.7" cy="1522.2" r="9.4"/>
<circle cx="372.6" cy="1546.4" r="9.4"/>
<circle cx="393.6" cy="1778.9" r="9.4"/>
<circle cx="414.5" cy="1692.2" r="9.4"/>
<circle cx="435.5" cy="1723.7" r="9.4"/>
<circle cx="498.3" cy="1784.7" r="9.4"/>
<circle cx="519.3" cy="1651.1" r="9.4"/>
<circle cx="540.2" cy="1521.1" r="9.4"/>
<circle cx="561.2" cy="1712.1" r="9.4"/>
<circle cx="582.1" cy="1570.6" r="9.4"/>
<circle cx="603.1" cy="1796.2" r="9.4"/>
<circle cx="624.0" cy="1589.0" r="9.4"/>
<circle cx="645.0" cy="1769.7" r="9.4"/>
<circle cx="666.0" cy="1692.2" r="9.4"/>
<circle cx="707.8" cy="1761.6" r="9.4"/>
<circle cx="728.8" cy="1683.4" r="9.4"/>
<circle cx="749.8" cy="1671.9" r="9.4"/>
<circle cx="770.7" cy="1761.6" r="9.4"/>
<circle cx="791.6" cy="1831.9" r="9.4"/>
<circle cx="812.6" cy="1760.5" r="9.4"/>
<circle cx="833.5" cy="1890.2" r="9.4"/>
<circle cx="854.5" cy="1777.8" r="9.4"/>
<circle cx="896.4" cy="1826.1" r="9.4"/>
<circle cx="917.4" cy="1660.3" r="9.4"/>
<circle cx="938.3" cy="1763.9" r="9.4"/>
<circle cx="959.2" cy="1749.0" r="9.4"/>
<circle cx="980.2" cy="1805.4" r="9.4"/>
<circle cx="1001.1" cy="1836.5" r="9.4"/>
</g>
<g fill="rgba(0,0,255,0.20)" stroke="rgba(13,13,153,0.20)" stroke-width="2.9">
<circle cx="226.0" cy="1321.6" r="9.4"/>
<circle cx="246.9" cy="1309.0" r="9.4"/>
<circle cx="267.9" cy="1151.3" r="9.4"/>
<circle cx="309.8" cy="1291.7" r="9.4"/>
<circle cx="330.8" cy="1399.9" r="9.4"/>
<circle cx="351.7" cy="1266.4" r="9.4"/>
<circle cx="372.6" cy="1225.0" r="9.4"/>
<circle cx="393.6" cy="1478.2" r="9.4"/>
<circle cx="414.5" cy="1388.4" r="9.4"/>
<circle cx="435.5" cy="1418.3" r="9.4"/>
<circle cx="456.4" cy="1082.2" r="9.4"/>
<circle cx="477.4" cy="1151.3" r="9.4"/>
<circle cx="498.3" cy="1488.5" r="9.4"/>
<circle cx="519.3" cy="1352.7" r="9.4"/>
<circle cx="540.2" cy="1304.4" r="9.4"/>
<circle cx="561.2" cy="1439.0" r="9.4"/>
<circle cx="582.1" cy="1486.2" r="9.4"/>
<circle cx="603.1" cy="1501.7" r="9.4"/>
<circle cx="624.0" cy="1349.3" r="9.4"/>
<circle cx="645.0" cy="1462.1" r="9.4"/>
<circle cx="666.0" cy="1409.1" r="9.4"/>
<circle cx="686.9" cy="1170.9" r="9.4"/>
<circle cx="707.8" cy="1418.3" r="9.4"/>
<circle cx="728.8" cy="1459.8" r="9.4"/>
<circle cx="749.8" cy="1399.9" r="9.4"/>
<circle cx="770.7" cy="1402.2" r="9.4"/>
<circle cx="812.6" cy="1401.1" r="9.4"/>
<circle cx="833.5" cy="1414.9" r="9.4"/>
<circle cx="854.5" cy="1471.3" r="9.4"/>
<circle cx="875.4" cy="1177.8" r="9.4"/>
<circle cx="896.4" cy="1384.9" r="9.4"/>
<circle cx="917.4" cy="1420.6" r="9.4"/>
<circle cx="938.3" cy="1398.8" r="9.4"/>
<circle cx="959.2" cy="1422.9" r="9.4"/>
<circle cx="980.2" cy="1391.9" r="9.4"/>
<circle cx="1001.1" cy="1471.3" r="9.4"/>
<circle cx="1022.1" cy="1280.2" r="9.4"/>
<circle cx="288.9" cy="1635.0" r="9.4"/>
<circle cx="791.6" cy="1511.9" r="9.4"/>
</g>
<line x1="226.0" y1="1623.1" x2="1022.1" y2="1654.7" stroke="rgb(210,19,19)" stroke-width="2.4"/>
<line x1="226.0" y1="1661.6" x2="1022.1" y2="1726.6" stroke="rgb(170,17,55)" stroke-width="2.4"/>
<line x1="226.0" y1="1725.3" x2="1022.1" y2="1772.7" stroke="rgb(129,14,91)" stroke-width="2.4"/>
<line x1="226.0" y1="1653.8" x2="1022.1" y2="1768.5" stroke="rgb(88,12,127)" stroke-width="2.4"/>
<line x1="226.0" y1="1597.7" x2="1022.1" y2="1735.9" stroke="rgb(48,10,163)" stroke-width="2.4"/>
<line x1="226.0" y1="1332.7" x2="1022.1" y2="1412.6" stroke="rgb(7,7,199)" stroke-width="2.4"/>
</g>
<clipPath id="cBR"><rect x="1121.0" y="971.8" width="993.8" height="968.0"/></clipPath>
<g clip-path="url(#cBR)">
<g fill="rgba(255,0,0,0.20)" stroke="rgba(175,34,34,0.20)" stroke-width="2.9">
<circle cx="1220.0" cy="1311.1" r="9.4"/>
<circle cx="1241.0" cy="1415.5" r="9.4"/>
<circle cx="1261.9" cy="1350.2" r="9.4"/>
<circle cx="1282.8" cy="1255.8" r="9.4"/>
<circle cx="1303.8" cy="1338.7" r="9.4"/>
<circle cx="1324.8" cy="1318.0" r="9.4"/>
<circle cx="1345.7" cy="1215.2" r="9.4"/>
<circle cx="1366.7" cy="1139.6" r="9.4"/>
<circle cx="1387.6" cy="1273.1" r="9.4"/>
<circle cx="1408.5" cy="1304.2" r="9.4"/>
<circle cx="1429.5" cy="1407.8" r="9.4"/>
<circle cx="1450.5" cy="1380.1" r="9.4"/>
<circle cx="1471.4" cy="1269.6" r="9.4"/>
<circle cx="1492.3" cy="1285.7" r="9.4"/>
<circle cx="1513.3" cy="1370.9" r="9.4"/>
<circle cx="1534.2" cy="1164.9" r="9.4"/>
<circle cx="1555.2" cy="1180.7" r="9.4"/>
<circle cx="1576.2" cy="1364.0" r="9.4"/>
<circle cx="1597.1" cy="1274.2" r="9.4"/>
<circle cx="1618.0" cy="1318.0" r="9.4"/>
<circle cx="1639.0" cy="1248.9" r="9.4"/>
<circle cx="1660.0" cy="1192.5" r="9.4"/>
<circle cx="1680.9" cy="1269.3" r="9.4"/>
<circle cx="1701.8" cy="1318.0" r="9.4"/>
<circle cx="1722.8" cy="1350.2" r="9.4"/>
<circle cx="1743.8" cy="1281.1" r="9.4"/>
<circle cx="1764.7" cy="1456.1" r="9.4"/>
<circle cx="1785.7" cy="1296.9" r="9.4"/>
<circle cx="1806.6" cy="1261.2" r="9.4"/>
<circle cx="1827.5" cy="1435.4" r="9.4"/>
<circle cx="1848.5" cy="1224.7" r="9.4"/>
<circle cx="1869.4" cy="1295.0" r="9.4"/>
<circle cx="1890.4" cy="1290.3" r="9.4"/>
<circle cx="1911.3" cy="1393.9" r="9.4"/>
<circle cx="1932.3" cy="1428.5" r="9.4"/>
<circle cx="1953.2" cy="1407.8" r="9.4"/>
<circle cx="1974.2" cy="1240.9" r="9.4"/>
<circle cx="1995.2" cy="1364.0" r="9.4"/>
<circle cx="2016.1" cy="1227.0" r="9.4"/>
</g>
<g fill="rgba(204,0,51,0.20)" stroke="rgba(142,30,58,0.20)" stroke-width="2.9">
<circle cx="1220.0" cy="1454.9" r="9.4"/>
<circle cx="1241.0" cy="1438.8" r="9.4"/>
<circle cx="1261.9" cy="1399.7" r="9.4"/>
<circle cx="1282.8" cy="1265.8" r="9.4"/>
<circle cx="1303.8" cy="1452.6" r="9.4"/>
<circle cx="1324.8" cy="1320.3" r="9.4"/>
<circle cx="1345.7" cy="1218.2" r="9.4"/>
<circle cx="1366.7" cy="1225.9" r="9.4"/>
<circle cx="1387.6" cy="1278.8" r="9.4"/>
<circle cx="1408.5" cy="1311.1" r="9.4"/>
<circle cx="1429.5" cy="1399.7" r="9.4"/>
<circle cx="1450.5" cy="1357.1" r="9.4"/>
<circle cx="1471.4" cy="1374.7" r="9.4"/>
<circle cx="1492.3" cy="1290.3" r="9.4"/>
<circle cx="1513.3" cy="1478.0" r="9.4"/>
<circle cx="1534.2" cy="1224.7" r="9.4"/>
<circle cx="1555.2" cy="1183.7" r="9.4"/>
<circle cx="1576.2" cy="1438.8" r="9.4"/>
<circle cx="1597.1" cy="1332.9" r="9.4"/>
<circle cx="1618.0" cy="1376.3" r="9.4"/>
<circle cx="1639.0" cy="1291.5" r="9.4"/>
<circle cx="1660.0" cy="1263.9" r="9.4"/>
<circle cx="1680.9" cy="1272.3" r="9.4"/>
<circle cx="1701.8" cy="1423.9" r="9.4"/>
<circle cx="1722.8" cy="1434.2" r="9.4"/>
<circle cx="1743.8" cy="1391.6" r="9.4"/>
<circle cx="1764.7" cy="1464.2" r="9.4"/>
<circle cx="1785.7" cy="1299.9" r="9.4"/>
<circle cx="1806.6" cy="1264.2" r="9.4"/>
<circle cx="1827.5" cy="1332.5" r="9.4"/>
<circle cx="1848.5" cy="1230.5" r="9.4"/>
<circle cx="1869.4" cy="1417.0" r="9.4"/>
<circle cx="1890.4" cy="1343.3" r="9.4"/>
<circle cx="1911.3" cy="1361.7" r="9.4"/>
<circle cx="1932.3" cy="1406.6" r="9.4"/>
<circle cx="1974.2" cy="1314.2" r="9.4"/>
<circle cx="1995.2" cy="1369.8" r="9.4"/>
<circle cx="2016.1" cy="1346.7" r="9.4"/>
</g>
<g fill="rgba(153,0,102,0.20)" stroke="rgba(110,26,82,0.20)" stroke-width="2.9">
<circle cx="1220.0" cy="1370.9" r="9.4"/>
<circle cx="1241.0" cy="1418.5" r="9.4"/>
<circle cx="1261.9" cy="1327.2" r="9.4"/>
<circle cx="1282.8" cy="1268.8" r="9.4"/>
<circle cx="1303.8" cy="1369.8" r="9.4"/>
<circle cx="1324.8" cy="1271.9" r="9.4"/>
<circle cx="1345.7" cy="1276.5" r="9.4"/>
<circle cx="1366.7" cy="1190.2" r="9.4"/>
<circle cx="1387.6" cy="1388.2" r="9.4"/>
<circle cx="1408.5" cy="1403.1" r="9.4"/>
<circle cx="1429.5" cy="1350.2" r="9.4"/>
<circle cx="1450.5" cy="1361.7" r="9.4"/>
<circle cx="1471.4" cy="1306.5" r="9.4"/>
<circle cx="1492.3" cy="1295.0" r="9.4"/>
<circle cx="1513.3" cy="1413.5" r="9.4"/>
<circle cx="1534.2" cy="1443.4" r="9.4"/>
<circle cx="1555.2" cy="1224.7" r="9.4"/>
<circle cx="1576.2" cy="1464.2" r="9.4"/>
<circle cx="1597.1" cy="1289.2" r="9.4"/>
<circle cx="1618.0" cy="1379.3" r="9.4"/>
<circle cx="1639.0" cy="1278.8" r="9.4"/>
<circle cx="1660.0" cy="1389.3" r="9.4"/>
<circle cx="1680.9" cy="1306.5" r="9.4"/>
<circle cx="1701.8" cy="1360.6" r="9.4"/>
<circle cx="1722.8" cy="1392.8" r="9.4"/>
<circle cx="1743.8" cy="1319.1" r="9.4"/>
<circle cx="1764.7" cy="1398.5" r="9.4"/>
<circle cx="1785.7" cy="1323.7" r="9.4"/>
<circle cx="1806.6" cy="1313.4" r="9.4"/>
<circle cx="1827.5" cy="1329.5" r="9.4"/>
<circle cx="1848.5" cy="1252.4" r="9.4"/>
<circle cx="1869.4" cy="1360.6" r="9.4"/>
<circle cx="1890.4" cy="1375.5" r="9.4"/>
<circle cx="1911.3" cy="1306.5" r="9.4"/>
<circle cx="1932.3" cy="1336.4" r="9.4"/>
<circle cx="1953.2" cy="1281.1" r="9.4"/>
<circle cx="1974.2" cy="1284.6" r="9.4"/>
<circle cx="1995.2" cy="1316.8" r="9.4"/>
<circle cx="2016.1" cy="1446.9" r="9.4"/>
</g>
<g fill="rgba(102,0,153,0.20)" stroke="rgba(78,22,106,0.20)" stroke-width="2.9">
<circle cx="1220.0" cy="1335.6" r="9.4"/>
<circle cx="1241.0" cy="1321.8" r="9.4"/>
<circle cx="1261.9" cy="1405.5" r="9.4"/>
<circle cx="1282.8" cy="1423.9" r="9.4"/>
<circle cx="1303.8" cy="1354.8" r="9.4"/>
<circle cx="1324.8" cy="1384.7" r="9.4"/>
<circle cx="1345.7" cy="1356.0" r="9.4"/>
<circle cx="1366.7" cy="1362.9" r="9.4"/>
<circle cx="1387.6" cy="1343.3" r="9.4"/>
<circle cx="1408.5" cy="1288.0" r="9.4"/>
<circle cx="1429.5" cy="1387.0" r="9.4"/>
<circle cx="1450.5" cy="1444.2" r="9.4"/>
<circle cx="1471.4" cy="1371.7" r="9.4"/>
<circle cx="1492.3" cy="1379.0" r="9.4"/>
<circle cx="1513.3" cy="1427.3" r="9.4"/>
<circle cx="1534.2" cy="1198.6" r="9.4"/>
<circle cx="1555.2" cy="1336.4" r="9.4"/>
<circle cx="1576.2" cy="1370.9" r="9.4"/>
<circle cx="1597.1" cy="1362.9" r="9.4"/>
<circle cx="1618.0" cy="1427.3" r="9.4"/>
<circle cx="1639.0" cy="1402.0" r="9.4"/>
<circle cx="1660.0" cy="1215.9" r="9.4"/>
<circle cx="1680.9" cy="1381.3" r="9.4"/>
<circle cx="1701.8" cy="1392.8" r="9.4"/>
<circle cx="1722.8" cy="1446.9" r="9.4"/>
<circle cx="1743.8" cy="1342.1" r="9.4"/>
<circle cx="1764.7" cy="1433.1" r="9.4"/>
<circle cx="1785.7" cy="1421.6" r="9.4"/>
<circle cx="1806.6" cy="1368.6" r="9.4"/>
<circle cx="1827.5" cy="1326.5" r="9.4"/>
<circle cx="1848.5" cy="1235.1" r="9.4"/>
<circle cx="1848.5" cy="1322.6" r="9.4"/>
<circle cx="1869.4" cy="1465.3" r="9.4"/>
<circle cx="1890.4" cy="1280.3" r="9.4"/>
<circle cx="1911.3" cy="1370.9" r="9.4"/>
<circle cx="1932.3" cy="1396.2" r="9.4"/>
<circle cx="1953.2" cy="1267.3" r="9.4"/>
<circle cx="1953.2" cy="1348.2" r="9.4"/>
<circle cx="1974.2" cy="1317.2" r="9.4"/>
<circle cx="1995.2" cy="1341.0" r="9.4"/>
<circle cx="2016.1" cy="1301.1" r="9.4"/>
</g>
<g fill="rgba(51,0,204,0.20)" stroke="rgba(45,17,130,0.20)" stroke-width="2.9">
<circle cx="1220.0" cy="1283.4" r="9.4"/>
<circle cx="1241.0" cy="1318.8" r="9.4"/>
<circle cx="1261.9" cy="1372.1" r="9.4"/>
<circle cx="1282.8" cy="1319.1" r="9.4"/>
<circle cx="1303.8" cy="1228.2" r="9.4"/>
<circle cx="1324.8" cy="1324.9" r="9.4"/>
<circle cx="1345.7" cy="1198.3" r="9.4"/>
<circle cx="1366.7" cy="1270.8" r="9.4"/>
<circle cx="1387.6" cy="1166.0" r="9.4"/>
<circle cx="1408.5" cy="1372.1" r="9.4"/>
<circle cx="1429.5" cy="1369.8" r="9.4"/>
<circle cx="1450.5" cy="1447.2" r="9.4"/>
<circle cx="1471.4" cy="1476.0" r="9.4"/>
<circle cx="1492.3" cy="1213.2" r="9.4"/>
<circle cx="1513.3" cy="1332.9" r="9.4"/>
<circle cx="1534.2" cy="1195.6" r="9.4"/>
<circle cx="1555.2" cy="1161.4" r="9.4"/>
<circle cx="1576.2" cy="1384.7" r="9.4"/>
<circle cx="1597.1" cy="1252.4" r="9.4"/>
<circle cx="1618.0" cy="1304.2" r="9.4"/>
<circle cx="1639.0" cy="1205.2" r="9.4"/>
<circle cx="1660.0" cy="1212.9" r="9.4"/>
<circle cx="1680.9" cy="1341.0" r="9.4"/>
<circle cx="1701.8" cy="1329.5" r="9.4"/>
<circle cx="1722.8" cy="1407.8" r="9.4"/>
<circle cx="1743.8" cy="1293.8" r="9.4"/>
<circle cx="1764.7" cy="1411.2" r="9.4"/>
<circle cx="1785.7" cy="1255.8" r="9.4"/>
<circle cx="1806.6" cy="1321.4" r="9.4"/>
<circle cx="1827.5" cy="1322.6" r="9.4"/>
<circle cx="1848.5" cy="1239.7" r="9.4"/>
<circle cx="1869.4" cy="1309.9" r="9.4"/>
<circle cx="1890.4" cy="1277.3" r="9.4"/>
<circle cx="1911.3" cy="1288.0" r="9.4"/>
<circle cx="1932.3" cy="1276.5" r="9.4"/>
<circle cx="1953.2" cy="1322.6" r="9.4"/>
<circle cx="1974.2" cy="1209.8" r="9.4"/>
<circle cx="1995.2" cy="1331.8" r="9.4"/>
<circle cx="2016.1" cy="1298.1" r="9.4"/>
</g>
<g fill="rgba(0,0,255,0.20)" stroke="rgba(13,13,153,0.20)" stroke-width="2.9">
<circle cx="1220.0" cy="1332.6" r="9.4"/>
<circle cx="1241.0" cy="1514.8" r="9.4"/>
<circle cx="1261.9" cy="1568.9" r="9.4"/>
<circle cx="1303.8" cy="1556.7" r="9.4"/>
<circle cx="1324.8" cy="1521.7" r="9.4"/>
<circle cx="1345.7" cy="1483.7" r="9.4"/>
<circle cx="1366.7" cy="1428.5" r="9.4"/>
<circle cx="1387.6" cy="1497.5" r="9.4"/>
<circle cx="1408.5" cy="1502.1" r="9.4"/>
<circle cx="1429.5" cy="1484.9" r="9.4"/>
<circle cx="1471.4" cy="1473.0" r="9.4"/>
<circle cx="1492.3" cy="1270.8" r="9.4"/>
<circle cx="1513.3" cy="1484.9" r="9.4"/>
<circle cx="1576.2" cy="1502.1" r="9.4"/>
<circle cx="1597.1" cy="1537.8" r="9.4"/>
<circle cx="1618.0" cy="1557.4" r="9.4"/>
<circle cx="1660.0" cy="1549.3" r="9.4"/>
<circle cx="1680.9" cy="1441.1" r="9.4"/>
<circle cx="1701.8" cy="1486.0" r="9.4"/>
<circle cx="1722.8" cy="1536.2" r="9.4"/>
<circle cx="1743.8" cy="1382.4" r="9.4"/>
<circle cx="1806.6" cy="1528.8" r="9.4"/>
<circle cx="1827.5" cy="1465.3" r="9.4"/>
<circle cx="1848.5" cy="1514.8" r="9.4"/>
<circle cx="1869.4" cy="1480.3" r="9.4"/>
<circle cx="1890.4" cy="1453.8" r="9.4"/>
<circle cx="1911.3" cy="1480.3" r="9.4"/>
<circle cx="1932.3" cy="1480.3" r="9.4"/>
<circle cx="1953.2" cy="1345.2" r="9.4"/>
<circle cx="1974.2" cy="1536.7" r="9.4"/>
<circle cx="1995.2" cy="1541.7" r="9.4"/>
<circle cx="2016.1" cy="1422.7" r="9.4"/>
<circle cx="1282.8" cy="1614.0" r="9.4"/>
<circle cx="1450.5" cy="1584.0" r="9.4"/>
<circle cx="1534.2" cy="1583.0" r="9.4"/>
<circle cx="1555.2" cy="1582.0" r="9.4"/>
<circle cx="1639.0" cy="1617.0" r="9.4"/>
<circle cx="1764.7" cy="1577.0" r="9.4"/>
<circle cx="1785.7" cy="1646.0" r="9.4"/>
</g>
<line x1="1220.0" y1="1299.6" x2="2016.1" y2="1306.5" stroke="rgb(210,19,19)" stroke-width="2.4"/>
<line x1="1220.0" y1="1350.2" x2="2016.1" y2="1360.6" stroke="rgb(170,17,55)" stroke-width="2.4"/>
<line x1="1220.0" y1="1310.6" x2="2016.1" y2="1306.4" stroke="rgb(129,14,91)" stroke-width="2.4"/>
<line x1="1220.0" y1="1394.4" x2="2016.1" y2="1377.7" stroke="rgb(88,12,127)" stroke-width="2.4"/>
<line x1="1220.0" y1="1293.1" x2="2016.1" y2="1295.7" stroke="rgb(48,10,163)" stroke-width="2.4"/>
<line x1="1220.0" y1="1511.3" x2="2016.1" y2="1492.1" stroke="rgb(7,7,199)" stroke-width="2.4"/>
</g>
<rect x="127.0" y="3.9" width="1987.8" height="1935.9" fill="none" stroke="#000" stroke-width="2.3"/>
<line x1="1121.0" y1="3.9" x2="1121.0" y2="1939.8" stroke="#000" stroke-width="2.3"/>
<line x1="127.0" y1="971.8" x2="2114.8" y2="971.8" stroke="#000" stroke-width="2.3"/>
<g stroke="#000" stroke-width="2.3">
<line x1="116.9" y1="878.70" x2="127.0" y2="878.70"/>
<line x1="1110.9" y1="878.70" x2="1121.0" y2="878.70"/>
<line x1="116.9" y1="761.95" x2="127.0" y2="761.95"/>
<line x1="1110.9" y1="761.95" x2="1121.0" y2="761.95"/>
<line x1="116.9" y1="645.20" x2="127.0" y2="645.20"/>
<line x1="1110.9" y1="645.20" x2="1121.0" y2="645.20"/>
<line x1="116.9" y1="528.45" x2="127.0" y2="528.45"/>
<line x1="1110.9" y1="528.45" x2="1121.0" y2="528.45"/>
<line x1="116.9" y1="411.70" x2="127.0" y2="411.70"/>
<line x1="1110.9" y1="411.70" x2="1121.0" y2="411.70"/>
<line x1="116.9" y1="294.95" x2="127.0" y2="294.95"/>
<line x1="1110.9" y1="294.95" x2="1121.0" y2="294.95"/>
<line x1="116.9" y1="178.20" x2="127.0" y2="178.20"/>
<line x1="1110.9" y1="178.20" x2="1121.0" y2="178.20"/>
<line x1="116.9" y1="61.45" x2="127.0" y2="61.45"/>
<line x1="1110.9" y1="61.45" x2="1121.0" y2="61.45"/>
<line x1="116.9" y1="1846.95" x2="127.0" y2="1846.95"/>
<line x1="1110.9" y1="1846.95" x2="1121.0" y2="1846.95"/>
<line x1="116.9" y1="1730.20" x2="127.0" y2="1730.20"/>
<line x1="1110.9" y1="1730.20" x2="1121.0" y2="1730.20"/>
<line x1="116.9" y1="1613.45" x2="127.0" y2="1613.45"/>
<line x1="1110.9" y1="1613.45" x2="1121.0" y2="1613.45"/>
<line x1="116.9" y1="1496.70" x2="127.0" y2="1496.70"/>
<line x1="1110.9" y1="1496.70" x2="1121.0" y2="1496.70"/>
<line x1="116.9" y1="1379.95" x2="127.0" y2="1379.95"/>
<line x1="1110.9" y1="1379.95" x2="1121.0" y2="1379.95"/>
<line x1="116.9" y1="1263.20" x2="127.0" y2="1263.20"/>
<line x1="1110.9" y1="1263.20" x2="1121.0" y2="1263.20"/>
<line x1="116.9" y1="1146.45" x2="127.0" y2="1146.45"/>
<line x1="1110.9" y1="1146.45" x2="1121.0" y2="1146.45"/>
<line x1="116.9" y1="1029.70" x2="127.0" y2="1029.70"/>
<line x1="1110.9" y1="1029.70" x2="1121.0" y2="1029.70"/>
<line x1="226.00" y1="1939.8" x2="226.00" y2="1949.9"/>
<line x1="435.50" y1="1939.8" x2="435.50" y2="1949.9"/>
<line x1="645.00" y1="1939.8" x2="645.00" y2="1949.9"/>
<line x1="854.50" y1="1939.8" x2="854.50" y2="1949.9"/>
<line x1="1064.00" y1="1939.8" x2="1064.00" y2="1949.9"/>
<line x1="1220.00" y1="1939.8" x2="1220.00" y2="1949.9"/>
<line x1="1429.50" y1="1939.8" x2="1429.50" y2="1949.9"/>
<line x1="1639.00" y1="1939.8" x2="1639.00" y2="1949.9"/>
<line x1="1848.50" y1="1939.8" x2="1848.50" y2="1949.9"/>
<line x1="2058.00" y1="1939.8" x2="2058.00" y2="1949.9"/>
</g>
<g font-size="29.3px">
<text x="106.0" y="890.0" text-anchor="end">20</text>
<text x="106.0" y="773.2" text-anchor="end">30</text>
<text x="106.0" y="656.5" text-anchor="end">40</text>
<text x="106.0" y="539.8" text-anchor="end">50</text>
<text x="106.0" y="423.0" text-anchor="end">60</text>
<text x="106.0" y="306.2" text-anchor="end">70</text>
<text x="106.0" y="189.5" text-anchor="end">80</text>
<text x="106.0" y="72.8" text-anchor="end">90</text>
<text x="106.0" y="1858.2" text-anchor="end">20</text>
<text x="106.0" y="1741.5" text-anchor="end">30</text>
<text x="106.0" y="1624.8" text-anchor="end">40</text>
<text x="106.0" y="1508.0" text-anchor="end">50</text>
<text x="106.0" y="1391.2" text-anchor="end">60</text>
<text x="106.0" y="1274.5" text-anchor="end">70</text>
<text x="106.0" y="1157.8" text-anchor="end">80</text>
<text x="106.0" y="1041.0" text-anchor="end">90</text>
<text x="226.0" y="1982.5" text-anchor="middle">1980</text>
<text x="435.5" y="1982.5" text-anchor="middle">1990</text>
<text x="645.0" y="1982.5" text-anchor="middle">2000</text>
<text x="854.5" y="1982.5" text-anchor="middle">2010</text>
<text x="1064.0" y="1982.5" text-anchor="middle">2020</text>
<text x="1220.0" y="1982.5" text-anchor="middle">1980</text>
<text x="1429.5" y="1982.5" text-anchor="middle">1990</text>
<text x="1639.0" y="1982.5" text-anchor="middle">2000</text>
<text x="1848.5" y="1982.5" text-anchor="middle">2010</text>
<text x="2058.0" y="1982.5" text-anchor="middle">2020</text>
</g>
<text x="540.2" y="61.5" font-size="44.6px">ESWYT</text>
<text x="1534.2" y="61.5" font-size="44.6px">IDYN</text>
<text x="540.2" y="1029.7" font-size="44.6px">SAWYT</text>
<text x="1534.2" y="1029.7" font-size="44.6px">HTWYT</text>
<text x="1121.0" y="2034.3" font-size="44.5px" text-anchor="middle">Year</text>
<text transform="translate(38.3,973.0) rotate(-90)" x="0" y="0" font-size="44.5px" text-anchor="middle">Crossover occurrence (%)</text>
<rect x="471.0" y="2068.0" width="1299.0" height="107.0" rx="6.5" ry="6.5" fill="#fff" stroke="#cbcbcb" stroke-width="2.2"/>
<circle cx="517.0" cy="2097.5" r="9.4" fill="rgba(255,0,0,0.20)" stroke="rgba(175,34,34,0.20)" stroke-width="2.9"/>
<text x="576.0" y="2107.3" font-size="33.0px">L1 penalty = 10</text>
<circle cx="517.0" cy="2146.0" r="9.4" fill="rgba(204,0,51,0.20)" stroke="rgba(142,30,58,0.20)" stroke-width="2.9"/>
<text x="576.0" y="2155.8" font-size="33.0px">L1 penalty = 1</text>
<circle cx="936.0" cy="2097.5" r="9.4" fill="rgba(153,0,102,0.20)" stroke="rgba(110,26,82,0.20)" stroke-width="2.9"/>
<text x="993.0" y="2107.3" font-size="33.0px">L1 penalty = 0.1</text>
<circle cx="936.0" cy="2146.0" r="9.4" fill="rgba(102,0,153,0.20)" stroke="rgba(78,22,106,0.20)" stroke-width="2.9"/>
<text x="993.0" y="2155.8" font-size="33.0px">L1 penalty = 0.01</text>
<circle cx="1385.0" cy="2097.5" r="9.4" fill="rgba(51,0,204,0.20)" stroke="rgba(45,17,130,0.20)" stroke-width="2.9"/>
<text x="1443.0" y="2107.3" font-size="33.0px">L1 penalty = 0.001</text>
<circle cx="1385.0" cy="2146.0" r="9.4" fill="rgba(0,0,255,0.20)" stroke="rgba(13,13,153,0.20)" stroke-width="2.9"/>
<text x="1443.0" y="2155.8" font-size="33.0px">L1 penalty = 0</text>
</svg></body></html>
